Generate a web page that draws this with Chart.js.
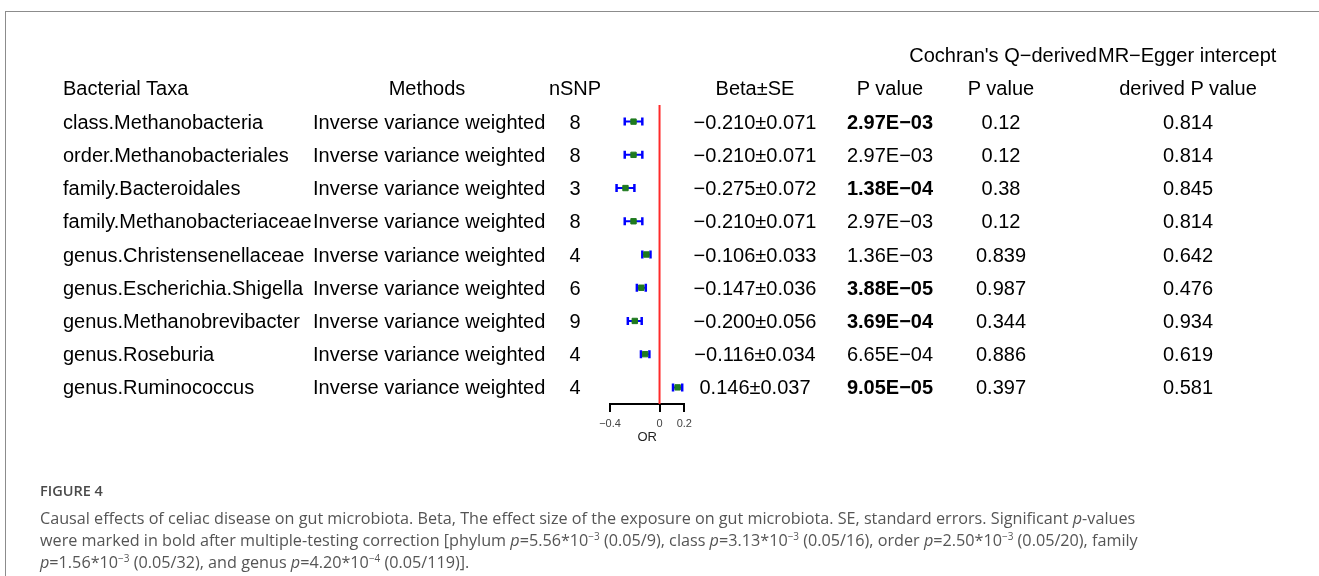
<!DOCTYPE html>
<html>
<head>
<meta charset="utf-8">
<script src="https://cdn.jsdelivr.net/npm/chart.js@4"></script>
<style>
body { margin: 0; background: #fff; }
#wrap { position: relative; width: 1319px; height: 576px; overflow: hidden; font-family: "Liberation Sans", Arial, sans-serif; }
#frame { position: absolute; left: 5px; top: 11px; right: -2px; bottom: -2px; border-top: 1px solid #8c8c8c; border-left: 1px solid #8c8c8c; }
#plotBox { position: absolute; left: 0; top: 0; width: 1319px; height: 576px; }
.cell { position: absolute; height: 24px; line-height: 24px; font-size: 20px; color: #000; white-space: nowrap; }
.c { transform: translateX(-50%); }
.r { transform: translateX(-100%); }
.b { font-weight: bold; }
#fig { position: absolute; left: 40px; top: 481px; font: 600 14.5px "Open Sans", sans-serif; color: #4a4a4a; }
#cap { position: absolute; left: 40px; top: 507px; font: 16.2px/22px "Open Sans", sans-serif; color: #555; white-space: nowrap; }
#cap sup { font-size: 10px; line-height: 0; }
</style>
</head>
<body>
<div id="wrap">
  <div id="frame"></div>
  <div id="plotBox"><canvas id="forest"></canvas></div>
  <div id="fig">FIGURE 4</div>
  <div id="cap">
    Causal effects of celiac disease on gut microbiota. Beta, The effect size of the exposure on gut microbiota. SE, standard errors. Significant <i>p</i>-values<br>
    were marked in bold after multiple-testing correction [phylum <i>p</i>=5.56*10<sup>−3</sup> (0.05/9), class <i>p</i>=3.13*10<sup>−3</sup> (0.05/16), order <i>p</i>=2.50*10<sup>−3</sup> (0.05/20), family<br>
    <i>p</i>=1.56*10<sup>−3</sup> (0.05/32), and genus <i>p</i>=4.20*10<sup>−4</sup> (0.05/119)].
  </div>
</div>
<script>
const taxa = ['class.Methanobacteria', 'order.Methanobacteriales', 'family.Bacteroidales',
  'family.Methanobacteriaceae', 'genus.Christensenellaceae', 'genus.Escherichia.Shigella',
  'genus.Methanobrevibacter', 'genus.Roseburia', 'genus.Ruminococcus']
const methods = ['Inverse variance weighted', 'Inverse variance weighted', 'Inverse variance weighted',
  'Inverse variance weighted', 'Inverse variance weighted', 'Inverse variance weighted',
  'Inverse variance weighted', 'Inverse variance weighted', 'Inverse variance weighted']
const nSNP = [8, 8, 3, 8, 4, 6, 9, 4, 4]
const beta = [-0.210, -0.210, -0.275, -0.210, -0.106, -0.147, -0.200, -0.116, 0.146]
const se = [0.071, 0.071, 0.072, 0.071, 0.033, 0.036, 0.056, 0.034, 0.037]
const pValue = ['2.97E−03', '2.97E−03', '1.38E−04', '2.97E−03', '1.36E−03', '3.88E−05', '3.69E−04', '6.65E−04', '9.05E−05']
const pBold = [true, false, true, false, false, true, true, false, true]
const qPValue = ['0.12', '0.12', '0.38', '0.12', '0.839', '0.987', '0.344', '0.886', '0.397']
const eggerPValue = ['0.814', '0.814', '0.845', '0.814', '0.642', '0.476', '0.934', '0.619', '0.581']
const xTicks = [-0.4, 0, 0.2]
const xTickLabels = ['−0.4', '0', '0.2']

const fmt = v => (v < 0 ? '−' : '') + Math.abs(v).toFixed(3)

// forest plot datasets
let datasets = []
datasets.push({
  label: 'beta', data: beta.map((b, i) => ({ x: b, y: i })),
  pointStyle: 'rect', pointRadius: 3.8, pointBackgroundColor: '#1f7a1f',
  pointBorderColor: '#1f7a1f', pointBorderWidth: 1, order: 1
})
datasets.push({
  label: 'caps', data: beta.flatMap((b, i) => [{ x: b - se[i], y: i }, { x: b + se[i], y: i }]),
  pointStyle: 'line', pointRotation: 90, pointRadius: 4,
  pointBorderColor: '#0000ff', pointBorderWidth: 2.5, order: 2
})
beta.forEach((b, i) => {
  datasets.push({
    label: 'se' + i, data: [{ x: b - se[i], y: i }, { x: b + se[i], y: i }],
    showLine: true, borderColor: '#0000ff', borderWidth: 2, pointRadius: 0, order: 3
  })
})
datasets.push({
  label: 'zero', data: [{ x: 0, y: -0.5 }, { x: 0, y: beta.length - 0.5 }],
  showLine: true, borderColor: '#ff2a2a', borderWidth: 2, pointRadius: 0, order: 4
})

const chart = new Chart(document.getElementById('forest'), {
  type: 'scatter',
  data: { datasets: datasets },
  options: {
    animation: false,
    responsive: true,
    maintainAspectRatio: false,
    events: [],
    layout: { padding: { left: 610, right: 634.7, top: 105, bottom: 127 } },
    plugins: { legend: { display: false }, tooltip: { enabled: false } },
    scales: {
      x: {
        type: 'linear', min: -0.4, max: 0.2,
        afterBuildTicks: s => { s.ticks = xTicks.map(v => ({ value: v })) },
        afterFit: s => { s.height = 45 },
        grid: { drawOnChartArea: false, drawTicks: true, tickLength: 8, color: '#000', lineWidth: 2 },
        border: { display: true, color: '#000', width: 2 },
        ticks: {
          autoSkip: false, maxRotation: 0, minRotation: 0, padding: 5, color: '#444',
          font: { family: 'Liberation Sans', size: 11 },
          callback: (v, i) => xTickLabels[i]
        },
        title: { display: true, text: 'OR', color: '#222', font: { family: 'Liberation Sans', size: 13 }, padding: { top: 2, bottom: 4 } }
      },
      y: { type: 'linear', display: false, min: -0.5, max: beta.length - 0.5, reverse: true }
    }
  }
})

// table text, placed on the rows of the chart's y scale
const wrap = document.getElementById('wrap')
function addCell(text, x, row, align, bold) {
  let d = document.createElement('div')
  d.className = 'cell' + (align ? ' ' + align : '') + (bold ? ' b' : '')
  d.textContent = text
  d.style.left = x + 'px'
  d.style.top = (chart.scales.y.getPixelForValue(row) - 12) + 'px'
  wrap.appendChild(d)
}

addCell("Cochran's Q−derived", 1097, -2, 'r')
addCell('MR−Egger intercept', 1098, -2)
addCell('Bacterial Taxa', 63, -1)
addCell('Methods', 427, -1, 'c')
addCell('nSNP', 575, -1, 'c')
addCell('Beta±SE', 755, -1, 'c')
addCell('P value', 890, -1, 'c')
addCell('P value', 1001, -1, 'c')
addCell('derived P value', 1188, -1, 'c')

taxa.forEach((t, i) => {
  addCell(t, 63, i)
  addCell(methods[i], 313, i)
  addCell(String(nSNP[i]), 575, i, 'c')
  addCell(fmt(beta[i]) + '±' + se[i].toFixed(3), 755, i, 'c')
  addCell(pValue[i], 890, i, 'c', pBold[i])
  addCell(qPValue[i], 1001, i, 'c')
  addCell(eggerPValue[i], 1188, i, 'c')
})
</script>
</body>
</html>
